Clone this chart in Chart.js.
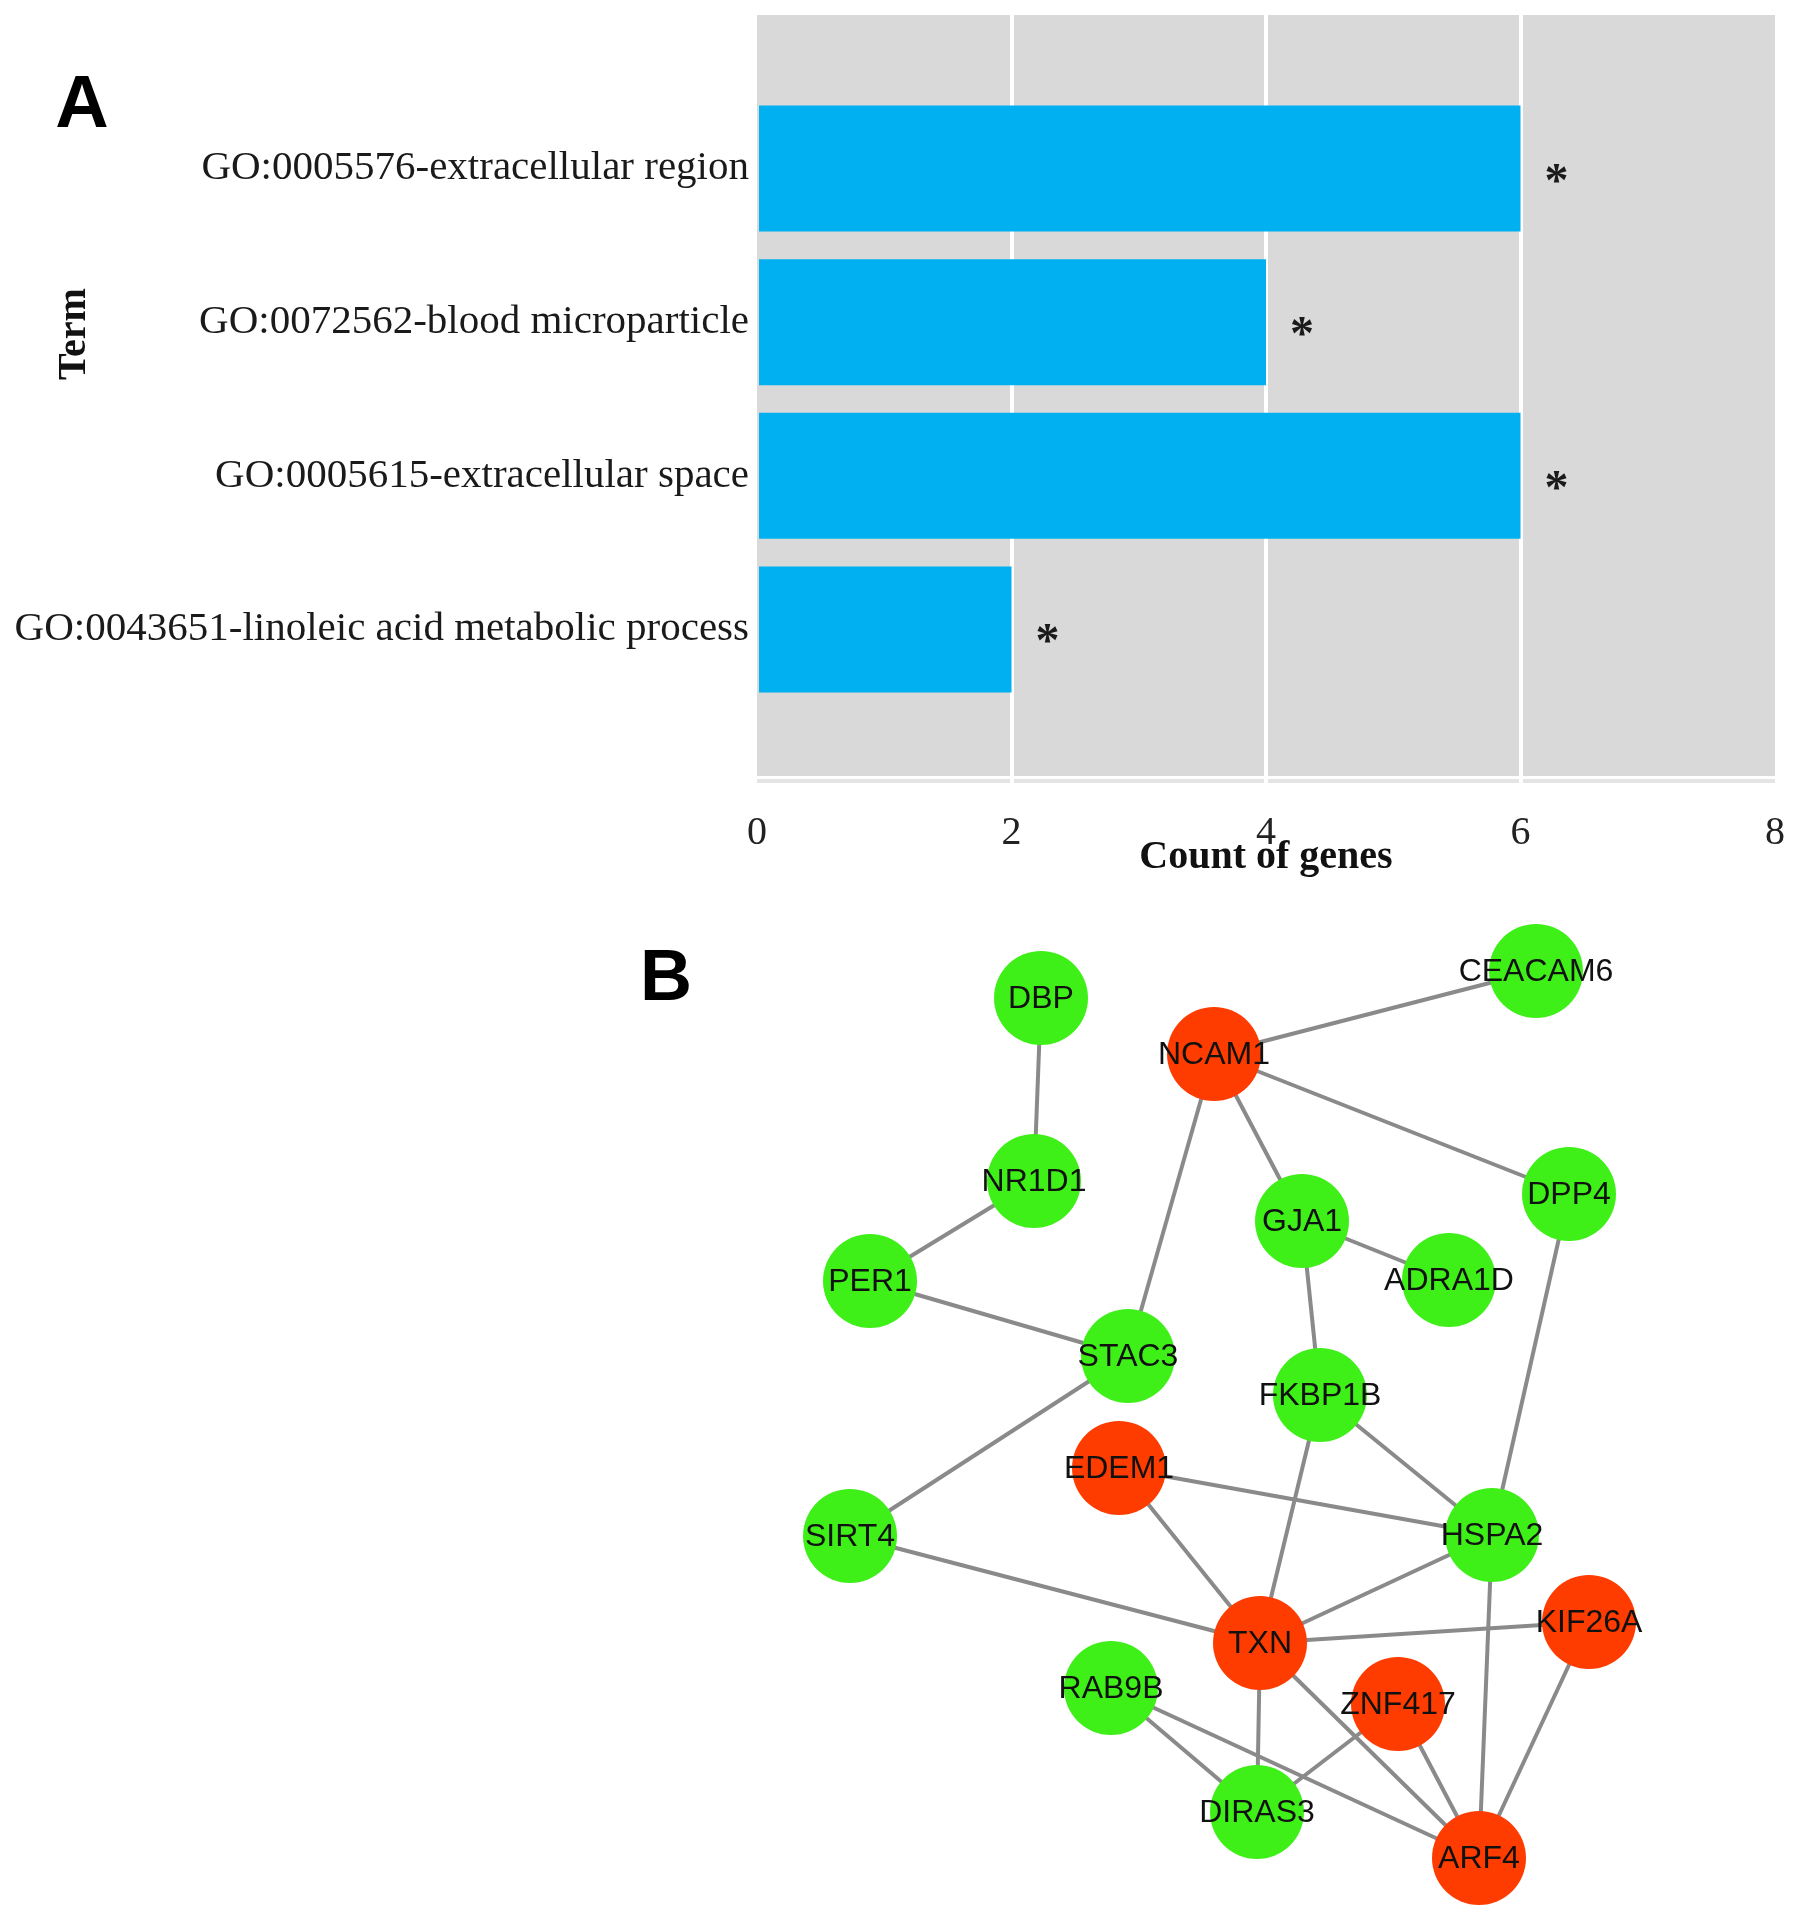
<!DOCTYPE html>
<html><head><meta charset="utf-8">
<script src="https://cdn.jsdelivr.net/npm/chart.js@4.4.1/dist/chart.umd.min.js"></script>
<style>
html,body{margin:0;padding:0;background:#fff;}
#wrap{position:relative;width:1795px;height:1918px;}
#cA{position:absolute;left:0;top:0;width:1795px;height:900px;}
#cB{position:absolute;left:0;top:900px;width:1795px;height:1018px;}
</style></head><body>
<div id="wrap"><canvas id="cA" width="1795" height="900"></canvas><canvas id="cB" width="1795" height="1018"></canvas></div>
<script>
// ---------- Panel A data ----------
const terms = [
  'GO:0005576-extracellular region',
  'GO:0072562-blood microparticle',
  'GO:0005615-extracellular space',
  'GO:0043651-linoleic acid metabolic process'
];
const geneCounts = [6, 4, 6, 2];
const significance = ['*', '*', '*', '*'];
const xTicks = [0, 2, 4, 6, 8];

// ---------- Panel B data (network layout units) ----------
const genes = ['DBP','CEACAM6','NCAM1','NR1D1','GJA1','DPP4','PER1','ADRA1D','STAC3','FKBP1B','EDEM1','SIRT4','HSPA2','KIF26A','TXN','ZNF417','RAB9B','DIRAS3','ARF4'];
const regulation = ['down','down','up','down','down','down','down','down','down','down','up','down','down','up','up','up','down','down','up'];
const layoutX = [104.1,153.6,121.4,103.4,130.2,156.9,87.0,144.9,112.8,132.0,111.9,85.0,149.2,158.9,126.0,139.8,111.1,125.7,147.9];
const layoutY = [99.8,97.1,105.4,118.1,122.1,119.4,128.1,128.0,135.6,139.5,146.8,153.6,153.5,162.2,164.3,170.4,168.8,181.2,185.8];
const interactions = [
  ['DBP','NR1D1'],['NR1D1','PER1'],['PER1','STAC3'],['STAC3','NCAM1'],['STAC3','SIRT4'],
  ['NCAM1','CEACAM6'],['NCAM1','GJA1'],['NCAM1','DPP4'],['GJA1','ADRA1D'],['GJA1','FKBP1B'],
  ['DPP4','HSPA2'],['FKBP1B','HSPA2'],['FKBP1B','TXN'],['EDEM1','HSPA2'],['EDEM1','TXN'],
  ['SIRT4','TXN'],['HSPA2','TXN'],['HSPA2','ARF4'],['TXN','KIF26A'],['TXN','DIRAS3'],
  ['TXN','ARF4'],['KIF26A','ARF4'],['ZNF417','ARF4'],['ZNF417','DIRAS3'],['RAB9B','DIRAS3'],
  ['RAB9B','ARF4']
];

const SERIF = '"Liberation Serif", "Times New Roman", serif';
const SANS = '"Liberation Sans", Arial, sans-serif';

// ---------- Panel A ----------
const padLabels = ['', ...terms, ''];
const padCounts = [null, ...geneCounts, null];
const padSig = [null, ...significance, null];

const zeroPad = (s) => { s.paddingLeft = 0; s.paddingRight = 0; s.paddingTop = 0; s.paddingBottom = 0; };

const panelBg = {
  id: 'panelBg',
  beforeDraw(chart) {
    const {ctx, chartArea: a} = chart;
    ctx.save();
    ctx.fillStyle = '#d9d9d9';
    ctx.fillRect(a.left, a.top, a.right - a.left, a.bottom - a.top - 7);
    ctx.fillStyle = '#e4e4e4';
    ctx.fillRect(a.left, a.bottom - 4, a.right - a.left, 4);
    ctx.restore();
  }
};
const annotA = {
  id: 'annotA',
  afterDatasetsDraw(chart) {
    const ctx = chart.ctx;
    const meta = chart.getDatasetMeta(0);
    ctx.save();
    ctx.fillStyle = '#1a1a1a';
    ctx.font = 'bold 48px ' + SERIF;
    ctx.textAlign = 'center';
    ctx.textBaseline = 'alphabetic';
    meta.data.forEach((el, i) => {
      if (padCounts[i] == null) return;
      ctx.fillText(padSig[i], el.x + 36, el.y + 27);
    });
    ctx.restore();
  },
  afterDraw(chart) {
    const ctx = chart.ctx;
    ctx.save();
    ctx.fillStyle = '#000';
    ctx.font = 'bold 74px ' + SANS;
    ctx.textAlign = 'center';
    ctx.textBaseline = 'alphabetic';
    ctx.fillText('A', 82, 127);
    ctx.translate(75, 334);
    ctx.rotate(-Math.PI / 2);
    ctx.font = 'bold 40px ' + SERIF;
    ctx.fillStyle = '#111';
    ctx.textBaseline = 'middle';
    ctx.fillText('Term', 0, 0);
    ctx.restore();
  }
};

new Chart(document.getElementById('cA'), {
  type: 'bar',
  data: {
    labels: padLabels,
    datasets: [{
      data: padCounts,
      backgroundColor: '#00b0f0',
      borderWidth: 0,
      categoryPercentage: 1,
      barPercentage: 0.82
    }]
  },
  options: {
    indexAxis: 'y',
    responsive: false,
    animation: false,
    events: [],
    layout: {autoPadding: false, padding: {top: 15, right: 20, left: 0, bottom: 0}},
    plugins: {legend: {display: false}, tooltip: {enabled: false}},
    scales: {
      x: {
        type: 'linear', min: 0, max: 8, position: 'bottom',
        afterBuildTicks(s) { s.ticks = xTicks.map(v => ({value: v})); },
        afterFit(s) { s.height = 117; zeroPad(s); },
        grid: {
          drawTicks: false, lineWidth: 4,
          color: (c) => (c.tick && (c.tick.value === xTicks[0] || c.tick.value === xTicks[xTicks.length - 1])) ? 'rgba(0,0,0,0)' : '#ffffff'
        },
        border: {display: false},
        ticks: {padding: 26, color: '#222', font: {family: SERIF, size: 40}},
        title: {display: true, text: 'Count of genes', color: '#111',
          font: {family: SERIF, size: 40, weight: 'bold'}, padding: {top: 0, bottom: 18}}
      },
      y: {
        type: 'category', offset: false,
        afterFit(s) { s.width = 757; zeroPad(s); },
        grid: {display: false},
        border: {display: false},
        ticks: {autoSkip: false, padding: 0, color: '#1a1a1a', font: {family: SERIF, size: 41}}
      }
    }
  },
  plugins: [panelBg, annotA]
});

// ---------- Panel B ----------
const nodePoint = (name) => {
  const i = genes.indexOf(name);
  return {x: layoutX[i], y: layoutY[i]};
};
const nodeData = genes.map((g, i) => ({x: layoutX[i], y: layoutY[i]}));
const nodeColors = regulation.map(r => r === 'up' ? '#ff3c00' : '#3ef018');
const edgeSets = interactions.map(([a, b]) => ({
  data: [nodePoint(a), nodePoint(b)],
  showLine: true,
  borderColor: '#8a8a8a',
  borderWidth: 4,
  pointRadius: 0,
  pointHoverRadius: 0,
  order: 1
}));

const annotB = {
  id: 'annotB',
  afterDatasetsDraw(chart) {
    const ctx = chart.ctx;
    const meta = chart.getDatasetMeta(0);
    ctx.save();
    ctx.fillStyle = '#111';
    ctx.font = '32px ' + SANS;
    ctx.textAlign = 'center';
    ctx.textBaseline = 'middle';
    meta.data.forEach((el, i) => ctx.fillText(genes[i], el.x, el.y + 1));
    ctx.restore();
  },
  afterDraw(chart) {
    const ctx = chart.ctx;
    ctx.save();
    ctx.fillStyle = '#000';
    ctx.font = 'bold 72px ' + SANS;
    ctx.textAlign = 'center';
    ctx.textBaseline = 'alphabetic';
    ctx.fillText('B', 666, 100);
    ctx.restore();
  }
};

new Chart(document.getElementById('cB'), {
  type: 'scatter',
  data: {
    datasets: [{
      data: nodeData,
      backgroundColor: nodeColors,
      borderWidth: 0,
      pointRadius: 47,
      pointHoverRadius: 47,
      showLine: false,
      clip: false,
      order: 0
    }, ...edgeSets]
  },
  options: {
    responsive: false,
    animation: false,
    events: [],
    layout: {autoPadding: false, padding: 0},
    plugins: {legend: {display: false}, tooltip: {enabled: false}},
    scales: {
      x: {type: 'linear', min: 0, max: 179.5, display: false},
      y: {type: 'linear', min: 90, max: 191.8, reverse: true, display: false}
    }
  },
  plugins: [annotB]
});
</script>
</body></html>
